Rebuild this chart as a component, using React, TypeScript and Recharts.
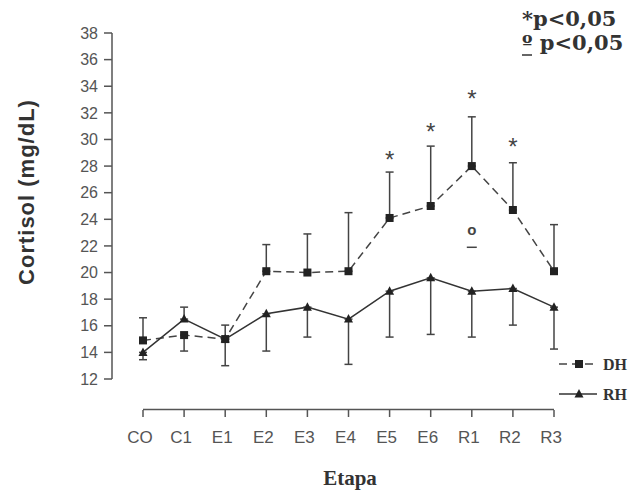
import React from "react"
import { ComposedChart, Line, XAxis, YAxis, ErrorBar, ReferenceLine } from "recharts"

const etapas = ["CO", "C1", "E1", "E2", "E3", "E4", "E5", "E6", "R1", "R2", "R3"]
const dhValues = [14.9, 15.3, 15.0, 20.1, 20.0, 20.1, 24.1, 25.0, 28.0, 24.7, 20.1]
const rhValues = [14.0, 16.5, 15.0, 16.9, 17.4, 16.5, 18.6, 19.6, 18.6, 18.8, 17.4]
// [below, above]
const dhError = [[0, 1.7], [1.2, 0], [0, 1.05], [0, 2.0], [0, 2.9], [0, 4.4], [0, 3.45], [0, 4.5], [0, 3.7], [0, 3.55], [0, 3.5]]
const rhError = [[0.55, 0], [0, 0.9], [2.0, 0], [2.8, 0], [2.25, 0], [3.4, 0], [3.45, 0], [4.25, 0], [3.45, 0], [2.75, 0], [3.15, 0]]
const asteriskAt = [null, null, null, null, null, null, 28.8, 30.9, 33.4, 29.8, null]
const circleAt = [null, null, null, null, null, null, null, null, 23.1, null, null]
const yTicks = [12, 14, 16, 18, 20, 22, 24, 26, 28, 30, 32, 34, 36, 38]
const xAxisLevel = 9.7

const data = etapas.map((etapa, i) => ({
  etapa,
  dh: dhValues[i],
  rh: rhValues[i],
  dhErr: dhError[i],
  rhErr: rhError[i],
  ast: asteriskAt[i],
  circ: circleAt[i],
}))

const ink = "#333"
const axisColor = "#555"

const Square = ({ cx, cy, index }: any) => (
  <rect key={`s${index}`} x={cx - 4} y={cy - 4} width={8} height={8} fill="#222" />
)

const Triangle = ({ cx, cy, index }: any) => (
  <polygon key={`t${index}`} points={`${cx},${cy - 5} ${cx - 4.5},${cy + 3.5} ${cx + 4.5},${cy + 3.5}`} fill="#222" />
)

const Asterisk = ({ cx, cy, index }: any) =>
  cy == null || isNaN(cy) ? <g key={`a${index}`} /> : (
    <text key={`a${index}`} x={cx} y={cy + 13} textAnchor="middle" fontSize={24} fill="#444" fontFamily="Liberation Sans">*</text>
  )

const Circle = ({ cx, cy, index }: any) =>
  cy == null || isNaN(cy) ? <g key={`c${index}`} /> : (
    <g key={`c${index}`}>
      <text x={cx} y={cy + 4} textAnchor="middle" fontSize={15} fontWeight="bold" fill="#444" fontFamily="Liberation Sans">o</text>
      <line x1={cx - 5} x2={cx + 5} y1={cy + 16} y2={cy + 16} stroke="#444" strokeWidth={1.5} />
    </g>
  )

const XTick = ({ x, y, payload }: any) => (
  <g>
    <line x1={x} x2={x} y1={y + 31} y2={y + 38} stroke={axisColor} strokeWidth={1.5} />
    <text x={x - 3} y={y + 64} textAnchor="middle" fontSize={17} fill={axisColor} fontFamily="Liberation Sans">
      {payload.value}
    </text>
  </g>
)

export default function App() {
  return (
    <div style={{ position: "absolute", left: 0, top: 0, width: 640, height: 490, background: "#fff" }}>
      <ComposedChart width={640} height={490} data={data} margin={{ top: 33, right: 56, left: 0, bottom: 11 }}>
        <YAxis
          domain={[12, 38]}
          ticks={yTicks}
          interval={0}
          allowDataOverflow
          width={112}
          tickSize={8}
          tickMargin={6}
          axisLine={{ stroke: axisColor, strokeWidth: 1.5 }}
          tickLine={{ stroke: axisColor, strokeWidth: 1.5 }}
          tick={{ fill: axisColor, fontSize: 16, fontFamily: "Liberation Sans" }}
        />
        <XAxis
          dataKey={"etapa"}
          padding={{ left: 31, right: 30 }}
          height={100}
          interval={0}
          axisLine={false}
          tickLine={false}
          tickSize={0}
          tickMargin={0}
          tick={<XTick />}
        />
        <ReferenceLine
          segment={[{ x: "CO", y: xAxisLevel }, { x: "R3", y: xAxisLevel }]}
          ifOverflow="visible"
          stroke={axisColor}
          strokeWidth={1.5}
        />
        <Line
          dataKey={"dh"}
          stroke="#444"
          strokeWidth={1.5}
          strokeDasharray="8 5"
          dot={<Square />}
          activeDot={false}
          isAnimationActive={false}
        >
          <ErrorBar dataKey={"dhErr"} direction="y" width={4} stroke="#444" strokeWidth={1.5} isAnimationActive={false} />
        </Line>
        <Line
          dataKey={"rh"}
          stroke="#333"
          strokeWidth={1.5}
          dot={<Triangle />}
          activeDot={false}
          isAnimationActive={false}
        >
          <ErrorBar dataKey={"rhErr"} direction="y" width={4} stroke="#444" strokeWidth={1.5} isAnimationActive={false} />
        </Line>
        <Line dataKey={"ast"} stroke="none" dot={<Asterisk />} activeDot={false} isAnimationActive={false} legendType="none" />
        <Line dataKey={"circ"} stroke="none" dot={<Circle />} activeDot={false} isAnimationActive={false} legendType="none" />
      </ComposedChart>
      <svg width={640} height={490} style={{ position: "absolute", left: 0, top: 0, pointerEvents: "none" }}>
        <text
          transform="translate(26,192) rotate(-90)"
          textAnchor="middle"
          dominantBaseline="central"
          fontSize={22}
          fontWeight="bold"
          letterSpacing={1}
          fill={ink}
          fontFamily="Liberation Sans"
        >
          Cortisol (mg/dL)
        </text>
        <text x={350} y={485} textAnchor="middle" fontSize={21} fontWeight="bold" fill={ink} fontFamily="Liberation Serif">
          Etapa
        </text>
        <text x={522} y={26} fontSize={21} fontWeight="bold" fill={ink} fontFamily="DejaVu Serif">*p&lt;0,05</text>
        <text x={522} y={50} fontSize={21} fontWeight="bold" fill={ink} fontFamily="DejaVu Serif">º p&lt;0,05</text>
        <line x1={522} x2={532} y1={55} y2={55} stroke={ink} strokeWidth={1.5} />
        <g>
          <line x1={559} x2={597} y1={364} y2={364} stroke="#444" strokeWidth={1.4} strokeDasharray="8 5" />
          <rect x={575} y={360} width={8} height={8} fill="#222" />
          <text x={603} y={370} fontSize={16} fontWeight="bold" fill={ink} fontFamily="Liberation Serif">DH</text>
          <line x1={559} x2={597} y1={394} y2={394} stroke="#333" strokeWidth={1.4} />
          <polygon points="579,389 574.5,397.5 583.5,397.5" fill="#222" />
          <text x={603} y={400} fontSize={16} fontWeight="bold" fill={ink} fontFamily="Liberation Serif">RH</text>
        </g>
      </svg>
    </div>
  )
}
